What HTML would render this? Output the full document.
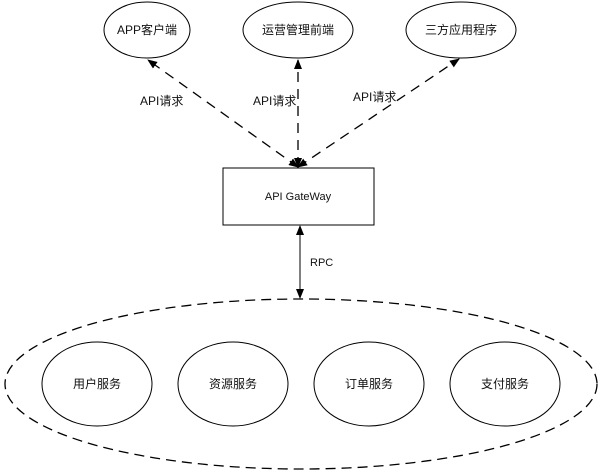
<!DOCTYPE html>
<html><head><meta charset="utf-8"><style>
html,body{margin:0;padding:0;background:#fff;}
svg{display:block}
text{font-family:"Liberation Sans","Noto Sans CJK SC",sans-serif;font-size:12px;fill:#111;}
</style></head><body>
<svg width="602" height="474" viewBox="0 0 602 474" xmlns="http://www.w3.org/2000/svg">
<defs>
<marker id="a" markerWidth="10" markerHeight="10" refX="9" refY="5" orient="auto-start-reverse" markerUnits="userSpaceOnUse">
<path d="M0,1 L10,5 L0,9 z" fill="#000"/></marker>
</defs>
<g fill="#fff" stroke="#000" stroke-width="1">
<ellipse cx="147" cy="30" rx="43" ry="28"/>
<ellipse cx="298" cy="30" rx="55" ry="28"/>
<ellipse cx="461" cy="30" rx="55" ry="28"/>
<rect x="223" y="168" width="151" height="57"/>
<ellipse cx="301" cy="384" rx="296" ry="85" stroke-dasharray="10,6" stroke-width="1.3" fill="none"/>
<ellipse cx="97" cy="384" rx="55" ry="42"/>
<ellipse cx="233" cy="384" rx="55" ry="42"/>
<ellipse cx="369" cy="384" rx="55" ry="42"/>
<ellipse cx="505" cy="384" rx="55" ry="42"/>
</g>
<g stroke="#000" stroke-width="1.3" stroke-dasharray="10,7" fill="none">
<line x1="298" y1="167" x2="148" y2="60" marker-start="url(#a)" marker-end="url(#a)"/>
<line x1="298" y1="167" x2="298" y2="60" marker-start="url(#a)" marker-end="url(#a)"/>
<line x1="298" y1="167" x2="459" y2="59" marker-start="url(#a)" marker-end="url(#a)"/>
</g>
<line x1="300" y1="226" x2="300" y2="298" stroke="#000" stroke-width="1" marker-start="url(#a)" marker-end="url(#a)"/>
<text x="147" y="34" text-anchor="middle">APP客户端</text>
<text x="298" y="34" text-anchor="middle">运营管理前端</text>
<text x="461" y="34" text-anchor="middle">三方应用程序</text>
<text x="140" y="105">API请求</text>
<text x="253" y="105">API请求</text>
<text x="353" y="101">API请求</text>
<text x="298" y="200" text-anchor="middle" style="font-size:11px">API GateWay</text>
<text x="310" y="266" style="font-size:11px">RPC</text>
<text x="97" y="388" text-anchor="middle">用户服务</text>
<text x="233" y="388" text-anchor="middle">资源服务</text>
<text x="369" y="388" text-anchor="middle">订单服务</text>
<text x="505" y="388" text-anchor="middle">支付服务</text>
</svg>
</body></html>
